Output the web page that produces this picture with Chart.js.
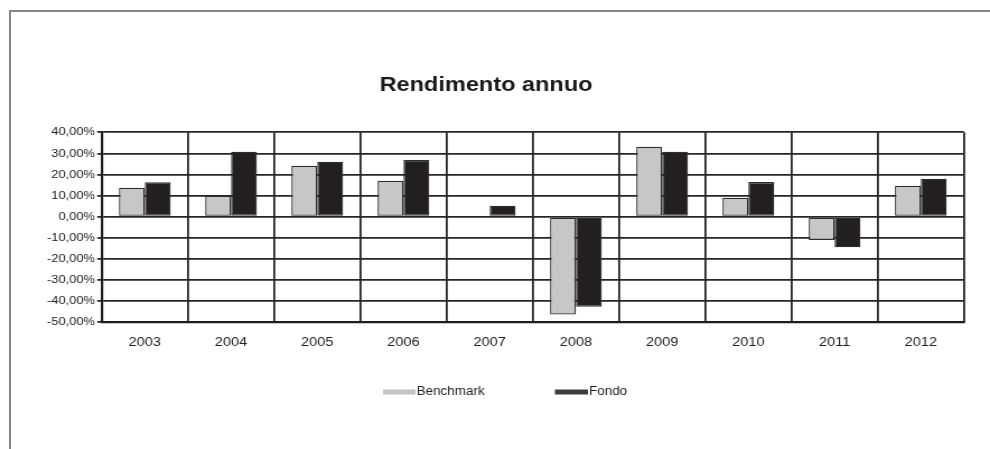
<!DOCTYPE html>
<html>
<head>
<meta charset="utf-8">
<script src="https://cdn.jsdelivr.net/npm/chart.js@4/dist/chart.umd.min.js"></script>
<style>
  html, body { margin: 0; padding: 0; background: #ffffff; }
  #wrap { position: relative; width: 990px; height: 449px; overflow: hidden; background: #fff; }
  #frame { position: absolute; left: 9px; top: 10px; right: -5px; bottom: -5px;
           border-top: 2px solid #858585; border-left: 2px solid #858585; pointer-events: none; }
</style>
</head>
<body>
<div id="wrap">
  <canvas id="c" width="884" height="449" style="position:absolute;left:0;top:0;width:990px;height:449px;"></canvas>
  <div id="frame"></div>
</div>
<script>
// ---- data ----
const categories = ['2003', '2004', '2005', '2006', '2007', '2008', '2009', '2010', '2011', '2012'];
const benchmark  = [13.7, 9.8, 24.2, 17.1, null, -46.3, 33.2, 9.0, -11.0, 14.7];
const fondo      = [16.3, 30.8, 26.1, 26.9, 5.2, -42.6, 30.8, 16.4, -14.5, 18.0];
const seriesNames = ['Benchmark', 'Fondo'];
const yMin = -50, yMax = 40, yStep = 10;
const titleText = 'Rendimento annuo';

const FONT = '"Liberation Sans", Arial, sans-serif';

const legendPlugin = {
  id: 'customLegendTitle',
  afterDraw(chart) {
    const ctx = chart.ctx;
    ctx.save();
    // title
    ctx.fillStyle = '#1a1a1a';
    ctx.font = 'bold 21px ' + FONT;
    ctx.textAlign = 'center';
    ctx.textBaseline = 'alphabetic';
    ctx.fillText(titleText, 434, 90.5);
    // legend
    const items = [
      { x: 342, w: 29, color: '#c4c4c4', label: seriesNames[0] },
      { x: 495.5, w: 29.5, color: '#3c3c3c', label: seriesNames[1] }
    ];
    ctx.font = '12px ' + FONT;
    ctx.textAlign = 'left';
    ctx.textBaseline = 'middle';
    items.forEach(it => {
      ctx.fillStyle = it.color;
      ctx.fillRect(it.x, 389.5, it.w, 5);
      ctx.fillStyle = '#222';
      ctx.fillText(it.label, it.x + it.w + 1, 392);
    });
    ctx.restore();
  }
};

new Chart(document.getElementById('c'), {
  type: 'bar',
  data: {
    labels: categories,
    datasets: [
      { label: seriesNames[0], data: benchmark, backgroundColor: '#c6c7c9',
        borderColor: '#2e2e2e', borderWidth: 1.3, borderSkipped: false,
        categoryPercentage: 0.6, barPercentage: 1.0 },
      { label: seriesNames[1], data: fondo, backgroundColor: '#231f20',
        borderColor: '#2e2e2e', borderWidth: 1.3, borderSkipped: false,
        categoryPercentage: 0.6, barPercentage: 1.0 }
    ]
  },
  options: {
    responsive: false,
    devicePixelRatio: 1,
    animation: false,
    layout: { padding: { left: 0, right: 23.3, top: 132.3, bottom: 0 } },
    plugins: { legend: { display: false }, title: { display: false }, tooltip: { enabled: false } },
    scales: {
      x: {
        grid: { color: '#262626', lineWidth: 1.8, drawTicks: false, offset: true },
        border: { color: '#1e1e1e', width: 2.2 },
        ticks: { color: '#222', font: { family: FONT, size: 13 }, padding: 12 },
        afterFit(scale) { scale.height = 126.7; }
      },
      y: {
        min: yMin, max: yMax,
        grid: { color: '#262626', lineWidth: 1.8, drawTicks: true, tickLength: 4 },
        border: { color: '#1e1e1e', width: 2.2 },
        ticks: {
          stepSize: yStep, color: '#222', padding: 2,
          font: { family: FONT, size: 11.5 },
          callback: v => v.toFixed(2).replace('.', ',') + '%'
        },
        afterFit(scale) { scale.width = 90.8; }
      }
    }
  },
  plugins: [legendPlugin]
});
</script>
</body>
</html>
